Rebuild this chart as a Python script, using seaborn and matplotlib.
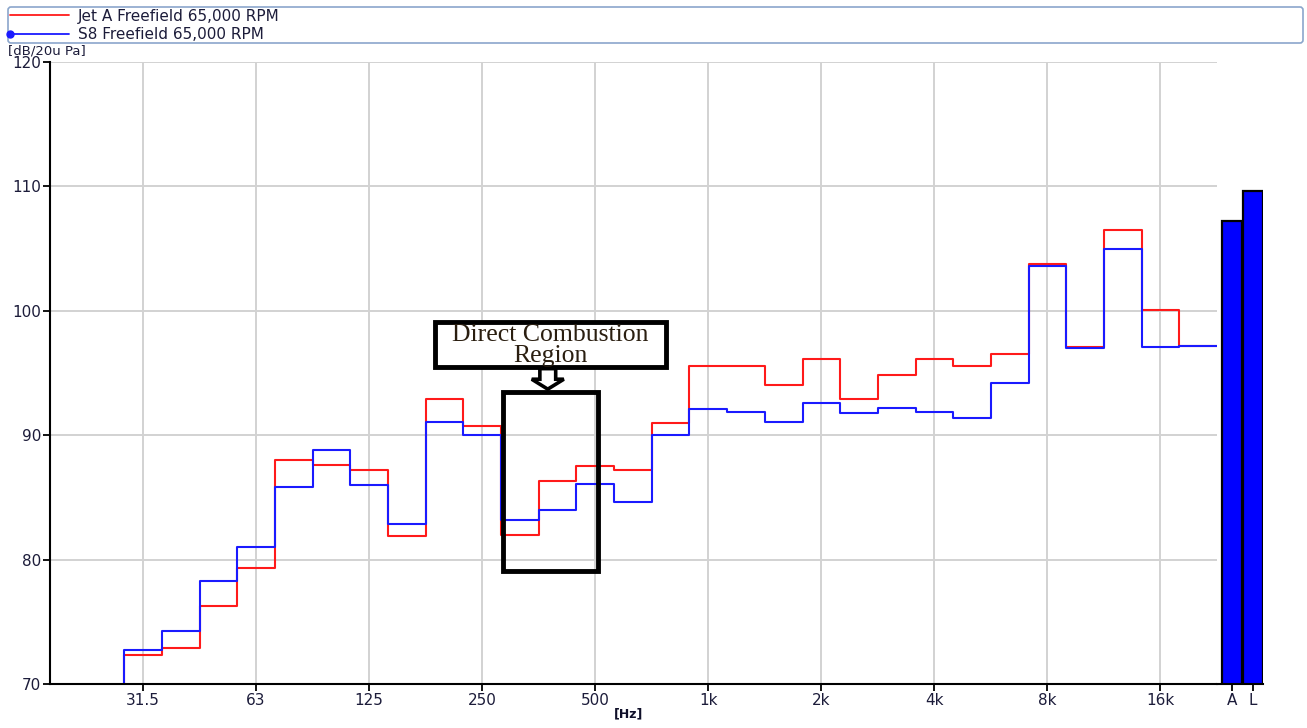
import numpy as np
import pandas as pd
import matplotlib
matplotlib.use("Agg")
import matplotlib.pyplot as plt
import seaborn as sns
from matplotlib.legend_handler import HandlerLine2D
from matplotlib.lines import Line2D
from matplotlib.patches import Rectangle, FancyArrow

# Third-octave band centres (Hz)
bands = ["31.5", "40", "50", "63", "80", "100", "125", "160", "200", "250",
         "315", "400", "500", "630", "800", "1k", "1.25k", "1.6k", "2k", "2.5k",
         "3.15k", "4k", "5k", "6.3k", "8k", "10k", "12.5k", "16k", "20k"]

# Band levels, dB re 20 uPa
jet_a = [72.3, 72.9, 76.3, 79.3, 88.0, 87.6, 87.2, 81.9, 92.9, 90.7,
         82.0, 86.3, 87.5, 87.2, 91.0, 95.6, 95.6, 94.0, 96.1, 92.9,
         94.8, 96.1, 95.6, 96.5, 103.8, 97.1, 106.5, 100.1, 97.2]
s8 = [72.7, 74.3, 78.3, 81.0, 85.8, 88.8, 86.0, 82.9, 91.1, 90.0,
      83.2, 84.0, 86.1, 84.6, 90.0, 92.1, 91.9, 91.1, 92.6, 91.8,
      92.2, 91.9, 91.4, 94.2, 103.6, 97.0, 105.0, 97.1, 97.2]

# Overall levels (A-weighted and linear)
overall_labels = ["A", "L"]
s8_overall = [107.2, 109.6]

octave_labels = ["31.5", "63", "125", "250", "500", "1k", "2k", "4k", "8k", "16k"]
series_names = ["Jet A Freefield 65,000 RPM", "S8 Freefield 65,000 RPM"]
series_colors = {series_names[0]: "#ff1a1a", series_names[1]: "#1a1aff"}

Y_MIN, Y_MAX = 70, 120

sns.set_style("white")
plt.rcParams["font.family"] = ["DejaVu Sans"]
TEXT_COLOR = "#1c1c3a"
LABEL_SIZE = 11

W, H = 1307, 728
fig = plt.figure(figsize=(W / 100, H / 100), dpi=100)


def fx(px):
    return px / W


def fy(py):
    return 1 - py / H


ax = fig.add_axes([fx(50), fy(684), fx(1217) - fx(50), fy(62) - fy(684)])
axb = fig.add_axes([fx(1217), fy(684), fx(1263) - fx(1217), fy(62) - fy(684)],
                   sharey=ax)


def step_frame(values, name):
    """Band levels as a step outline over band edges, rising from the floor."""
    edges = list(np.arange(len(values) + 1) - 0.5)
    x = [edges[0]] + edges
    y = [Y_MIN] + list(values) + [values[-1]]
    return pd.DataFrame({"x": x, "y": y, "series": name})


df = pd.concat([step_frame(jet_a, series_names[0]),
                step_frame(s8, series_names[1])], ignore_index=True)

sns.lineplot(data=df, x="x", y="y", hue="series", hue_order=series_names,
             palette=series_colors, estimator=None, sort=False,
             drawstyle="steps-post", linewidth=1.5, legend=False, ax=ax)

# Overall level bars
sns.barplot(x=overall_labels, y=s8_overall, color="#0000ff", saturation=1,
            edgecolor="black", linewidth=1.6, width=0.92, ax=axb)

# Axes styling
oct_pos = [bands.index(b) for b in octave_labels]
ax.set_xlim(-2.47, 28.5)
ax.set_ylim(Y_MIN, Y_MAX)
ax.set_xticks(oct_pos)
ax.set_xticklabels(octave_labels)
ax.set_yticks(np.arange(Y_MIN, Y_MAX + 1, 10))
ax.set_xlabel("")
ax.set_ylabel("")
ax.grid(True, color="#d2d2d2", linewidth=1.4)
ax.set_axisbelow(True)
for side in ["top", "right"]:
    ax.spines[side].set_visible(False)
for side in ["left", "bottom"]:
    ax.spines[side].set_color("black")
    ax.spines[side].set_linewidth(1.5)
ax.tick_params(axis="both", which="both", bottom=True, left=True,
               direction="out", length=5, width=1.3, color="black",
               labelcolor=TEXT_COLOR, labelsize=LABEL_SIZE, pad=1.5)

axb.set_xlim(-0.714, 1.476)
axb.set_xlabel("")
axb.set_ylabel("")
axb.grid(False)
for side in ["top", "right", "left"]:
    axb.spines[side].set_visible(False)
axb.spines["bottom"].set_color("black")
axb.spines["bottom"].set_linewidth(1.5)
axb.tick_params(axis="x", bottom=True, direction="out", length=5, width=1.3,
                color="black", labelcolor=TEXT_COLOR, labelsize=LABEL_SIZE,
                pad=1.5)
axb.tick_params(axis="y", left=False, labelleft=False)

# Highlighted band region with its caption box and arrow
ax.add_patch(Rectangle((9.55, 79.1), 12.07 - 9.55, 93.5 - 79.1, fill=False,
                       edgecolor="black", linewidth=3.5, zorder=5))
ax.add_patch(Rectangle((7.75, 95.5), 13.87 - 7.75, 99.1 - 95.5,
                       facecolor="white", edgecolor="black", linewidth=3.5,
                       zorder=5))
ax.text(10.81, 97.2, "Direct Combustion\nRegion", ha="center", va="center",
        family="Liberation Serif", fontsize=18.5, linespacing=0.93,
        color="#2a1e10", zorder=6)
ax.add_patch(FancyArrow(10.74, 95.35, 0, -1.65, width=0.42, head_width=0.85,
                        head_length=0.8, length_includes_head=True,
                        facecolor="white", edgecolor="black", linewidth=2.6,
                        zorder=6))


class LeftDotHandler(HandlerLine2D):
    def create_artists(self, *args, **kwargs):
        artists = super().create_artists(*args, **kwargs)
        for a in artists:
            a.set_markevery([0])
        return artists


handles = [Line2D([], [], color=series_colors[series_names[0]], linewidth=1.3),
           Line2D([], [], color=series_colors[series_names[1]], linewidth=1.3,
                  marker="o", markersize=5)]
leg = fig.legend(handles, series_names, loc="upper left",
                 bbox_to_anchor=(fx(8), fy(7), fx(1303) - fx(8), 0),
                 mode="expand", borderaxespad=0, frameon=True, fancybox=True,
                 framealpha=1, edgecolor="#8ba6cc", fontsize=LABEL_SIZE,
                 labelcolor=TEXT_COLOR, handlelength=3.9, handletextpad=0.55,
                 labelspacing=0.22, borderpad=0.1, numpoints=1,
                 handler_map={handles[1]: LeftDotHandler(numpoints=1)})
leg.get_frame().set_linewidth(1.2)

fig.text(fx(8), fy(57.5), "[dB/20u Pa]", va="bottom", ha="left",
         fontsize=9.5, color=TEXT_COLOR, zorder=10)
fig.text(fx(629), fy(714), "[Hz]", va="center", ha="center", fontsize=9,
         fontweight="bold", color="#10102a")

fig.savefig("out.png", dpi=100)
